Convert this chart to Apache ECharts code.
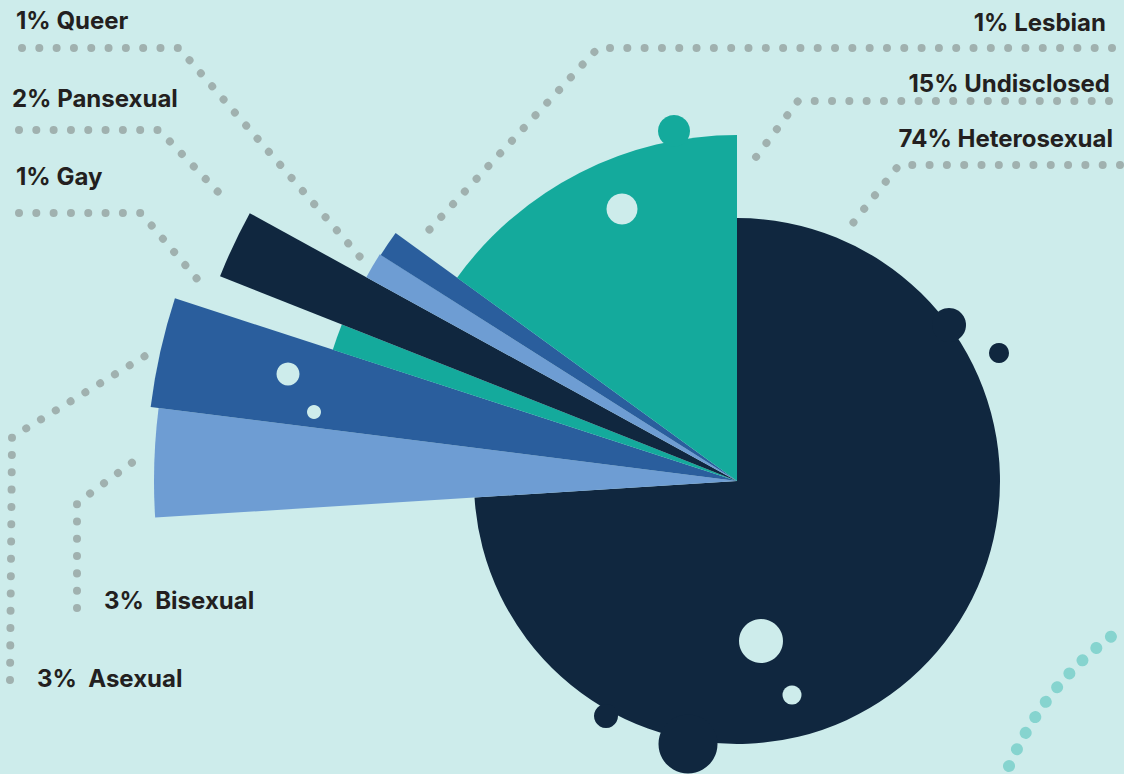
<!DOCTYPE html>
<html>
<head>
<meta charset="utf-8">
<script src="https://cdn.jsdelivr.net/npm/echarts@6/dist/echarts.min.js"></script>
<style>
  html, body { margin: 0; padding: 0; background: #cdeceb; }
  #chart { width: 1124px; height: 774px; }
</style>
</head>
<body>
<div id="chart"></div>
<script>
// Orientation shares, in clockwise order from 12 o'clock
const categories = ['Heterosexual', 'Bisexual', 'Asexual', 'Gay', 'Pansexual', 'Queer', 'Lesbian', 'Undisclosed'];
const shares = [74, 3, 3, 1, 2, 1, 1, 15];

// Look of each wedge
const sliceColors = ['#10273f', '#6e9dd3', '#2a5e9d', '#14aa9c', '#10273f', '#6e9dd3', '#2a5e9d', '#14aa9c'];
const sliceRadius = [263, 583, 591, 425, 556, 423, 422, 346];
const CENTER = [737, 481];

// Where each caption sits and how its dotted leader runs (caption end first)
const callouts = [
  { x: 1113, y: 138, align: 'right', gap: ' ',  line: [[1120, 165], [899, 165], [853, 223]] },
  { x: 104,  y: 600, align: 'left',  gap: '  ', line: [[77, 608], [77, 503], [141, 456]] },
  { x: 37,   y: 678, align: 'left',  gap: '  ', line: [[10, 680], [12, 437], [145, 356]] },
  { x: 16,   y: 176, align: 'left',  gap: ' ',  line: [[19, 213], [141, 213], [198, 280]] },
  { x: 12,   y: 98,  align: 'left',  gap: ' ',  line: [[19, 130], [159, 130], [219, 193]] },
  { x: 16,   y: 20,  align: 'left',  gap: ' ',  line: [[22, 48], [179, 48], [360, 257]] },
  { x: 1106, y: 22,  align: 'right', gap: ' ',  line: [[1112, 48], [598, 48], [429, 230]] },
  { x: 1110, y: 83,  align: 'right', gap: ' ',  line: [[1109, 101], [798, 101], [747, 169]] }
];

const FONT = 'Inter, "Noto Sans", "DejaVu Sans", sans-serif';

// One pie per wedge: every pie holds all shares so the angles come from the
// library, but only its own wedge is painted, at its own radius.
const series = categories.map(function (name, k) {
  const co = callouts[k];
  return {
    type: 'pie',
    center: CENTER,
    radius: [0, sliceRadius[k]],
    startAngle: 90,
    clockwise: true,
    silent: true,
    animation: false,
    avoidLabelOverlap: false,
    emphasis: { disabled: true },
    z: 2 + k,
    data: categories.map(function (n, i) {
      const mine = i === k;
      return {
        name: n,
        value: shares[i],
        itemStyle: { color: mine ? sliceColors[i] : 'rgba(0,0,0,0)' },
        label: { show: mine },
        labelLine: { show: mine }
      };
    }),
    label: {
      position: 'outside',
      formatter: function (p) { return p.percent + '%' + co.gap + p.name; },
      color: '#231f20',
      fontFamily: FONT,
      fontSize: 24,
      fontWeight: 'bold'
    },
    labelLine: {
      length: 10,
      length2: 10,
      lineStyle: {
        color: '#a0b1af',
        width: 8,
        type: [0.01, 17.3],
        cap: 'round',
        join: 'round'
      }
    },
    labelLayout: function () {
      return {
        x: co.x,
        y: co.y,
        align: co.align,
        verticalAlign: 'middle',
        labelLinePoints: co.line
      };
    }
  };
});

// Decorative bubbles around the pie
function bubble(cx, cy, r, fill) {
  return { type: 'circle', z: 100, silent: true, shape: { cx: cx, cy: cy, r: r }, style: { fill: fill } };
}
const BG = '#cdeceb';
const graphic = [
  bubble(674, 131, 16, '#14aa9c'),
  bubble(622, 209, 15.5, BG),
  bubble(288, 374, 11.5, BG),
  bubble(314, 412, 7, BG),
  bubble(761, 641, 22, BG),
  bubble(792, 695, 9.5, BG),
  bubble(606, 716, 12, '#10273f'),
  bubble(688, 744, 29.5, '#10273f'),
  bubble(949, 325, 17, '#10273f'),
  bubble(999, 353, 10, '#10273f'),
  {
    type: 'bezierCurve', z: 100, silent: true,
    shape: { x1: 1009, y1: 766, cpx1: 1047, cpy1: 680, x2: 1119, y2: 631 },
    style: { fill: 'none', stroke: '#86d4cf', lineWidth: 12, lineDash: [0.01, 18.5], lineCap: 'round' }
  }
];

const chart = echarts.init(document.getElementById('chart'), null, { renderer: 'svg' });
chart.setOption({
  backgroundColor: BG,
  animation: false,
  tooltip: { show: false },
  series: series,
  graphic: graphic
});
</script>
</body>
</html>
